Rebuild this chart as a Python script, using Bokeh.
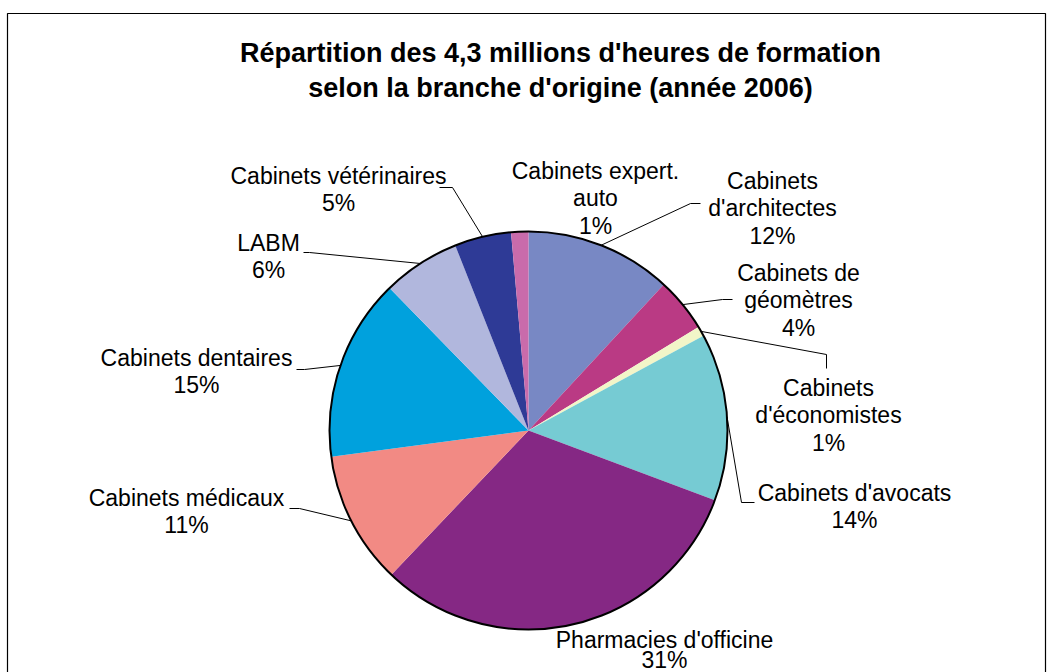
import math
from bokeh.plotting import figure
from bokeh.models import Range1d, ColumnDataSource
from bokeh.core.properties import value
from bokeh.embed import file_html
from bokeh.resources import INLINE

# ---------------- data ----------------
categories = [
    "Cabinets d'architectes", "Cabinets de géomètres", "Cabinets d'économistes",
    "Cabinets d'avocats", "Pharmacies d'officine", "Cabinets médicaux",
    "Cabinets dentaires", "LABM", "Cabinets vétérinaires", "Cabinets expert. auto",
]
shares = [11.9, 4.4, 0.8, 13.6, 31.4, 10.8, 14.8, 6.3, 4.6, 1.4]
label_lines = [
    ["Cabinets", "d'architectes"], ["Cabinets de", "géomètres"], ["Cabinets", "d'économistes"],
    ["Cabinets d'avocats"], ["Pharmacies d'officine"], ["Cabinets médicaux"],
    ["Cabinets dentaires"], ["LABM"], ["Cabinets vétérinaires"], ["Cabinets expert.", "auto"],
]
colors = ["#7888C4", "#BA3A84", "#F2F5C8", "#76CBD3", "#852884",
          "#F28A84", "#00A1DD", "#B1B7DD", "#2E3A96", "#C96BAB"]
title_lines = ["Répartition des 4,3 millions d'heures de formation",
               "selon la branche d'origine (année 2006)"]

# ---------------- layout (screen px) ----------------
W, H = 1058, 672
def X(px): return px
def Y(py): return H - py

CX, CY, R = 528, 430, 199
LH = 27.5
label_pos = [(772, 180), (798, 272), (828, 387), (854, 492), (664, 639),
             (186, 497), (196, 357), (268, 242), (338, 175), (595, 170)]
line_h = [LH, LH, LH, LH, 20.5, LH, LH, LH, LH, LH]
# leader polylines: fixed points near the label (screen px); last point on pie edge
leaders = {
    0: [(700, 203), (690, 203)],
    1: [(732, 299), (722, 299)],
    2: [(826, 368), (826, 354)],
    3: [(754, 502), (741, 502)],
    5: [(289, 508), (299, 508)],
    6: [(296, 369), (304, 369)],
    7: [(303, 252), (309, 252)],
    8: [(439, 187), (452, 187)],
}

p = figure(width=W, height=H, output_backend="svg", toolbar_location=None,
           x_range=Range1d(0, W), y_range=Range1d(0, H),
           min_border=0, outline_line_color=None)
p.axis.visible = False
p.grid.visible = False
p.background_fill_color = "white"

# frame
p.line([X(7), X(7), X(1045), X(1045)], [Y(700), Y(13), Y(13), Y(700)],
       line_color="#000000", line_width=1.2)

# wedges
total = sum(shares)
cum = 0.0
starts, ends, mids = [], [], []
for s in shares:
    a0 = cum / total
    cum += s
    a1 = cum / total
    starts.append(math.pi / 2 - 2 * math.pi * a1)
    ends.append(math.pi / 2 - 2 * math.pi * a0)
    mids.append((a0 + a1) / 2)
src = ColumnDataSource(dict(start=starts, end=ends, color=colors, cat=categories))
p.wedge(x=X(CX), y=Y(CY), radius=R, start_angle="start", end_angle="end",
        fill_color="color", line_color=None, source=src)
p.scatter(x=[X(CX)], y=[Y(CY)], size=2 * R, marker="circle", fill_color=None,
          line_color="black", line_width=2)

# leaders
for i, pts in leaders.items():
    th = 2 * math.pi * mids[i]
    ex = CX + R * math.sin(th)
    ey = CY - R * math.cos(th)
    xs = [X(a) for a, b in pts] + [X(ex)]
    ys = [Y(b) for a, b in pts] + [Y(ey)]
    p.line(xs, ys, line_color="black", line_width=1)

# labels
tx, ty, tt = [], [], []
for i, lines in enumerate(label_lines):
    lx, ly = label_pos[i]
    allines = lines + [f"{round(shares[i] / total * 100):d}%"]
    for k, t in enumerate(allines):
        tx.append(X(lx)); ty.append(Y(ly + k * line_h[i])); tt.append(t)
p.text(x=tx, y=ty, text=tt, text_align="center", text_baseline="middle",
       text_font=value("Liberation Sans"), text_font_size="23px", text_color="black")

# title
p.text(x=[X(560), X(560)], y=[Y(52), Y(87)], text=title_lines,
       text_align="center", text_baseline="middle",
       text_font=value("Liberation Sans"), text_font_size="27px",
       text_font_style="bold", text_color="black")

open("out.html", "w").write(file_html(p, INLINE))
